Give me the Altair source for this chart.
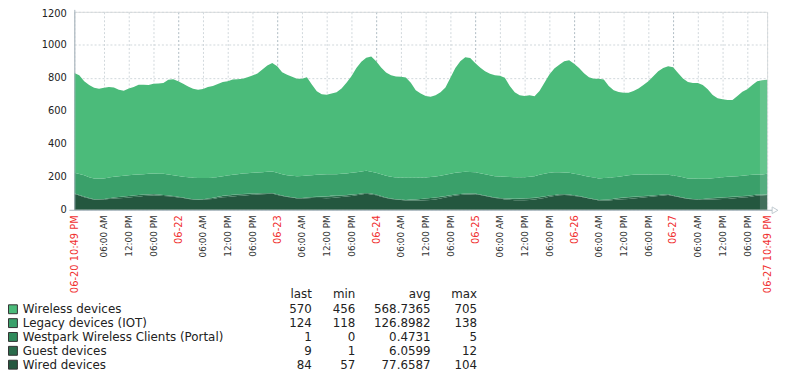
import altair as alt
import pandas as pd

# ---------------- data ----------------
START = "2023-06-20 22:49"
STEP = "72min"

series_names = ["Wireless devices", "Legacy devices (IOT)",
                "Westpark Wireless Clients (Portal)", "Guest devices", "Wired devices"]
series_colors = ["#4BBB7A", "#3AA06A", "#2F8A5B", "#2B6B4B", "#24573F"]

wireless = (
    [606, 599, 570, 558, 550, 545, 550, 549, 542, 525, 516, 527, 532, 544, 542, 538, 544, 547, 550, 574]
    + [582, 575, 564, 551, 540, 536, 540, 551, 556, 563, 570, 572, 578, 576, 574, 582, 590, 600, 622, 644]
    + [658, 646, 618, 608, 600, 591, 590, 596, 550, 506, 486, 482, 489, 496, 517, 550, 586, 632, 666, 686]
    + [700, 676, 647, 626, 616, 612, 611, 608, 576, 531, 510, 494, 487, 492, 505, 530, 582, 636, 673, 695]
    + [691, 662, 640, 624, 614, 612, 610, 600, 551, 514, 496, 492, 494, 484, 508, 552, 596, 629, 652, 674]
    + [682, 667, 646, 621, 604, 599, 604, 598, 556, 527, 514, 505, 500, 508, 522, 542, 566, 597, 628, 648]
    + [658, 656, 626, 599, 584, 579, 580, 568, 542, 505, 482, 473, 466, 464, 486, 509, 520, 544, 566, 572]
    + [570]
)
legacy = (
    [124, 127, 130, 127, 126, 125, 124, 125, 125, 125, 125, 125, 125, 124, 123, 124, 125, 127, 128, 127]
    + [126, 126, 126, 129, 130, 129, 128, 125, 121, 120, 119, 120, 121, 123, 125, 125, 125, 127, 128, 129]
    + [130, 130, 130, 130, 130, 133, 133, 134, 133, 133, 134, 135, 129, 131, 131, 131, 132, 134, 134, 134]
    + [132, 132, 132, 132, 132, 132, 133, 134, 132, 131, 129, 127, 127, 127, 128, 129, 130, 132, 132, 132]
    + [131, 130, 130, 130, 130, 130, 131, 132, 131, 131, 130, 129, 129, 131, 135, 137, 137, 138, 134, 132]
    + [132, 131, 130, 130, 130, 130, 130, 131, 131, 130, 129, 131, 133, 133, 133, 131, 129, 126, 122, 120]
    + [118, 121, 124, 123, 122, 123, 124, 122, 119, 120, 121, 122, 123, 123, 123, 124, 125, 124, 122, 123]
    + [124]
)
westpark = (
    [0, 0, 0, 0, 0, 0, 0, 0, 1, 1, 1, 1, 1, 1, 1, 1, 1, 0, 0, 0]
    + [0, 0, 0, 0, 0, 0, 0, 0, 1, 1, 1, 1, 1, 1, 1, 1, 1, 0, 0, 0]
    + [0, 0, 0, 0, 0, 0, 0, 0, 1, 1, 1, 1, 5, 1, 1, 1, 1, 0, 0, 0]
    + [0, 0, 0, 0, 0, 0, 0, 0, 1, 1, 1, 1, 1, 1, 1, 1, 1, 0, 0, 0]
    + [0, 0, 0, 0, 0, 0, 0, 0, 1, 1, 1, 1, 1, 1, 1, 1, 1, 0, 0, 0]
    + [0, 0, 0, 0, 0, 0, 0, 0, 1, 1, 1, 1, 1, 1, 1, 1, 1, 0, 0, 0]
    + [0, 0, 0, 0, 0, 0, 0, 0, 1, 1, 1, 1, 1, 1, 1, 1, 1, 0, 0, 0]
    + [1]
)
guest = (
    [5, 4, 4, 3, 3, 2, 3, 5, 6, 7, 8, 9, 9, 10, 9, 8, 7, 6, 6, 5]
    + [5, 4, 3, 3, 2, 2, 3, 4, 6, 7, 8, 9, 10, 9, 9, 8, 7, 7, 6, 5]
    + [4, 4, 3, 3, 2, 2, 3, 4, 5, 7, 8, 10, 11, 10, 9, 8, 7, 6, 6, 5]
    + [5, 4, 4, 3, 2, 1, 2, 3, 4, 5, 8, 10, 12, 11, 10, 8, 7, 6, 6, 5]
    + [5, 4, 3, 3, 2, 2, 3, 5, 6, 8, 9, 10, 10, 9, 9, 8, 7, 6, 6, 5]
    + [4, 4, 3, 3, 2, 2, 3, 4, 5, 7, 8, 9, 10, 10, 9, 8, 7, 7, 6, 5]
    + [5, 4, 3, 3, 2, 2, 3, 5, 6, 7, 8, 9, 10, 9, 9, 8, 8, 7, 6, 6]
    + [9]
)
wired = (
    [95, 86, 76, 68, 61, 62, 63, 65, 68, 70, 72, 74, 77, 79, 83, 85, 87, 86, 84, 82]
    + [79, 75, 71, 65, 62, 61, 61, 64, 66, 71, 76, 78, 80, 83, 85, 88, 91, 92, 94, 96]
    + [98, 90, 83, 77, 74, 69, 69, 70, 71, 71, 71, 70, 71, 74, 77, 80, 84, 88, 92, 97]
    + [93, 88, 79, 71, 66, 63, 60, 57, 57, 57, 57, 58, 59, 63, 68, 74, 80, 86, 89, 93]
    + [93, 94, 89, 83, 78, 72, 68, 63, 61, 58, 58, 58, 60, 63, 67, 72, 79, 83, 88, 89]
    + [88, 84, 81, 74, 68, 63, 57, 57, 57, 59, 62, 64, 66, 68, 71, 74, 77, 80, 84, 87]
    + [89, 83, 77, 71, 66, 64, 61, 61, 62, 63, 64, 65, 66, 69, 71, 74, 76, 81, 86, 85]
    + [84]
)

stat_last = ["570", "124", "1", "9", "84"]
stat_min = ["456", "118", "0", "1", "57"]
stat_avg = ["568.7365", "126.8982", "0.4731", "6.0599", "77.6587"]
stat_max = ["705", "138", "5", "12", "104"]
stat_headers = ["last", "min", "avg", "max"]

y_ticks = [0, 200, 400, 600, 800, 1000, 1200]
# x tick moments: (month, day, hour, minute)
x_tick_moments = (
    [(6, 20, 22, 49), (6, 21, 6, 0), (6, 21, 12, 0), (6, 21, 18, 0)]
    + [(6, d, h, 0) for d in range(22, 28) for h in (0, 6, 12, 18)]
    + [(6, 27, 22, 49)]
)
partial_from = "2023-06-27T21:04:00"

# ---------------- tables ----------------
times = pd.date_range(START, periods=len(wired), freq=STEP)
tstr = [t.strftime("%Y-%m-%dT%H:%M:%S") for t in times]

stack_order = [("Wired devices", wired), ("Guest devices", guest),
               ("Westpark Wireless Clients (Portal)", westpark),
               ("Legacy devices (IOT)", legacy), ("Wireless devices", wireless)]
rows = []
for order, (name, vals) in enumerate(stack_order):
    for t, v in zip(tstr, vals):
        rows.append({"time": t, "series": name, "value": v, "order": order})
df = pd.DataFrame(rows)

def dt(m, d, h, mi):
    return alt.DateTime(year=2023, month=m, date=d, hours=h, minutes=mi)

x_domain = [dt(*x_tick_moments[0]), dt(*x_tick_moments[-1])]
x_values = [dt(*m) for m in x_tick_moments]
y_domain = [y_ticks[0], y_ticks[-1]]

red_test = "minutes(datum.value) == 49 || hours(datum.value) == 0"
label_expr = ("minutes(datum.value) == 49 ? timeFormat(datum.value, '%m-%d %I:%M %p') : "
              "(hours(datum.value) == 0 ? timeFormat(datum.value, '%m-%d') : "
              "timeFormat(datum.value, '%I:%M %p'))")

x_axis = alt.Axis(
    values=x_values, labelExpr=label_expr, labelAngle=270, labelAlign="right",
    labelBaseline="middle", labelPadding=5, labelOverlap=False, labelFlush=False,
    labelColor={"condition": {"test": red_test, "value": "#f03030"}, "value": "#333333"},
    labelFontSize={"condition": {"test": red_test, "value": 10}, "value": 9},
    ticks=False, domain=False, grid=True, gridDash=[2, 2],
    gridColor={"condition": {"test": "hours(datum.value) == 0", "value": "#aebbc2"},
               "value": "#d0d8dc"},
    title=None,
)
y_axis = alt.Axis(
    values=y_ticks, format="d", labelOverlap=False, labelFlush=False,
    ticks=False, domain=False, grid=True, gridDash=[2, 2],
    gridColor="#d0d8dc", labelPadding=8, labelFontSize=10, labelColor="#222222",
    labelOffset={"condition": {"test": "datum.value == 1200", "value": 2}, "value": 0},
    title=None,
)

area = alt.Chart(df).mark_area(interpolate="linear").encode(
    x=alt.X("time:T", scale=alt.Scale(domain=x_domain, nice=False), axis=x_axis),
    y=alt.Y("value:Q", stack="zero", scale=alt.Scale(domain=y_domain, nice=False), axis=y_axis),
    color=alt.Color("series:N", scale=alt.Scale(domain=series_names, range=series_colors),
                    legend=None),
    order=alt.Order("order:Q", sort="ascending"),
)

last_total = wired[-1] + guest[-1] + westpark[-1] + legacy[-1] + wireless[-1]
band_df = pd.DataFrame([{"t0": partial_from, "t1": tstr[-1], "top": last_total, "base": 0}])
band = alt.Chart(band_df).mark_rect(color="white", opacity=0.14).encode(
    x=alt.X("t0:T", scale=alt.Scale(domain=x_domain, nice=False), axis=None), x2="t1:T",
    y=alt.Y("top:Q", scale=alt.Scale(domain=y_domain, nice=False), axis=None), y2="base:Q",
)

# ---------------- legend ----------------
row_y0, row_dy = 300.5, 14
leg = pd.DataFrame({
    "name": series_names,
    "color": series_colors,
    "i": list(range(len(series_names))),
})
leg["py"] = row_y0 + row_dy * leg["i"]
leg["sy"] = leg["py"] - 4.5
leg["sy2"] = leg["py"] + 4.5
leg["sx"] = -66.5
leg["sx2"] = -57.5
leg["nx"] = -52.0

squares = alt.Chart(leg).mark_rect(stroke="#333333", strokeWidth=1).encode(
    x=alt.X("sx:Q", scale=None, axis=None), x2="sx2:Q",
    y=alt.Y("sy:Q", scale=None, axis=None), y2="sy2:Q",
    color=alt.Color("color:N", scale=None, legend=None),
)
names = alt.Chart(leg).mark_text(align="left", baseline="middle", fontSize=12,
                                 color="#222222").encode(
    x=alt.X("nx:Q", scale=None, axis=None),
    y=alt.Y("py:Q", scale=None, axis=None),
    text="name:N",
)

col_right = [240, 284, 360, 407]
cells = []
for ci, col in enumerate([stat_last, stat_min, stat_avg, stat_max]):
    cells.append({"txt": stat_headers[ci], "px": col_right[ci], "py": 285.5})
    for ri, v in enumerate(col):
        cells.append({"txt": v, "px": col_right[ci], "py": row_y0 + row_dy * ri})
cells_df = pd.DataFrame(cells)
stats = alt.Chart(cells_df).mark_text(align="right", baseline="middle", fontSize=12,
                                      color="#222222").encode(
    x=alt.X("px:Q", scale=None, axis=None),
    y=alt.Y("py:Q", scale=None, axis=None),
    text="txt:N",
)

# ---------------- axis lines ----------------
axis_col = "#a7b5bd"
y_line = alt.Chart().mark_rule(color=axis_col, strokeWidth=1).encode(
    x=alt.value(0.5), y=alt.value(-2), y2=alt.value(200))
x_line = alt.Chart().mark_rule(color=axis_col, strokeWidth=1).encode(
    x=alt.value(-5), x2=alt.value(705), y=alt.value(200.5))
x_arrow = alt.Chart().mark_point(shape="triangle-right", filled=False, color=axis_col,
                                 size=45, strokeWidth=1).encode(
    x=alt.value(708), y=alt.value(200.5))

chart = alt.layer(area, band, squares, names, stats, y_line, x_line, x_arrow).resolve_scale(
    x="independent", y="independent"
).properties(
    width=700, height=200,
    padding={"left": 67, "top": 2, "right": 11, "bottom": 161},
    autosize=alt.AutoSizeParams(type="none"),
).configure_view(stroke="transparent").configure(font="DejaVu Sans")

chart.save("out.html", embed_options={"renderer": "svg", "actions": False})
